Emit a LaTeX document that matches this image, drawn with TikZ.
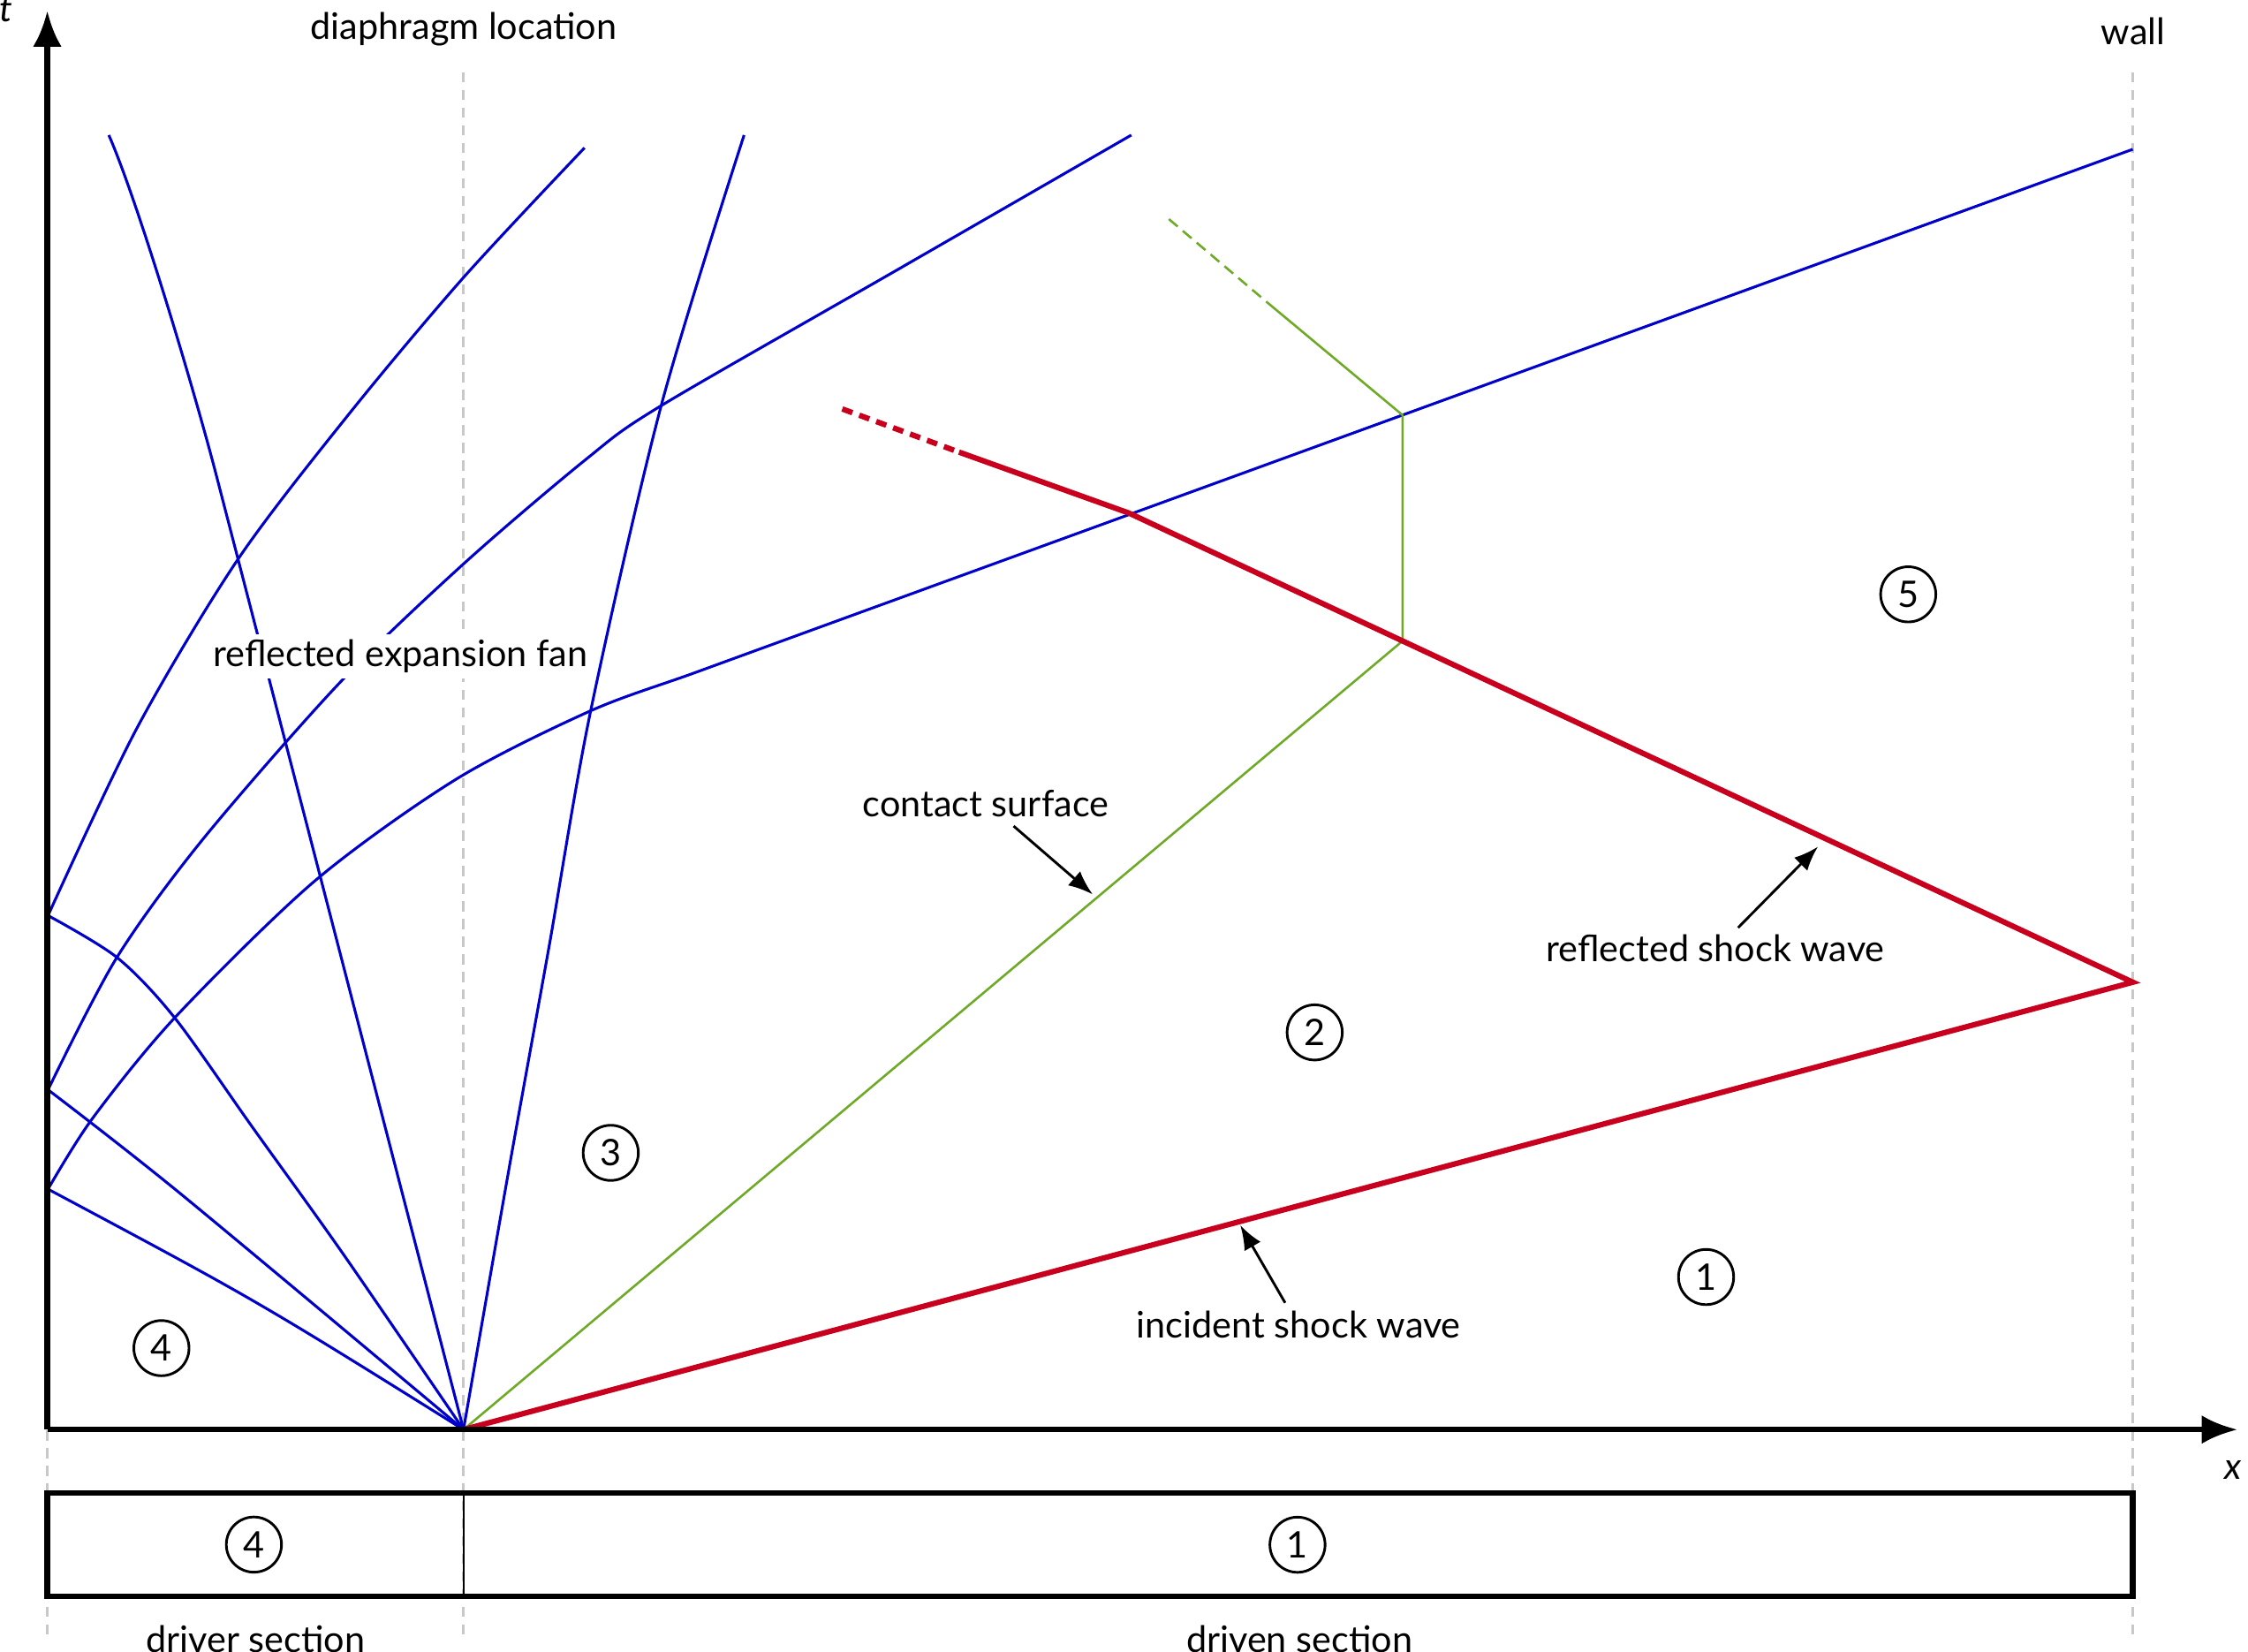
\documentclass[tikz,border=0pt]{standalone}
\usepackage{fontspec}
\setmainfont{Lato}
\usetikzlibrary{arrows.meta}
\definecolor{wblue}{RGB}{0,0,205}
\definecolor{wred}{RGB}{200,0,30}
\definecolor{wgreen}{RGB}{110,170,40}
\definecolor{wgray}{RGB}{200,200,200}
\begin{document}
\begin{tikzpicture}[x=1pt,y=-1pt,
  lbl/.style={font=\fontsize{25.5}{30}\selectfont, inner sep=0pt, anchor=base},
  ilbl/.style={font=\fontsize{25.5}{30}\selectfont\itshape, inner sep=0pt, anchor=base},
  region/.style={draw, circle, line width=1.8pt, minimum size=38.5pt, inner sep=0pt, font=\fontsize{25.5}{30}\selectfont},
  guide/.style={wgray, line width=2pt, dash pattern=on 7pt off 5.3pt},
  wave/.style={wblue, line width=1.9pt},
  shock/.style={wred, line width=3.8pt},
  contact/.style={wgreen, line width=1.6pt},
  axisline/.style={line width=3.8pt, -{Latex[length=25pt,width=20pt]}},
  pointer/.style={line width=1.8pt, -{Latex[length=17pt,width=13pt]}},
]
\useasboundingbox (0,0) rectangle (1568,1152);

% key points
\coordinate (O) at (33,997);
\coordinate (D) at (323.3,997);
\coordinate (W) at (1487.6,685);
\coordinate (tTip) at (33,7.5);
\coordinate (xTip) at (1560.7,997);
\coordinate (K) at (787.4,357.8);
\coordinate (S) at (668.9,315.3);
\coordinate (Rend) at (587.5,285.2);
\coordinate (G1) at (978.3,447);
\coordinate (G2) at (978.3,289.5);
\coordinate (G3) at (884,211);
\coordinate (Gend) at (815.3,152.8);
\coordinate (Etop) at (1487.6,104.1);

% guide lines
\coordinate (gA1) at (33,50.5);   \coordinate (gA2) at (33,1142);
\coordinate (gB1) at (323.3,50.5); \coordinate (gB2) at (323.3,1142);
\coordinate (gC1) at (1487.6,50.5); \coordinate (gC2) at (1487.6,1142);
\draw[guide] (gA1) -- (gA2);
\draw[guide] (gB1) -- (gB2);
\draw[guide] (gC1) -- (gC2);

% expansion fan
\draw[wave] (33.5,829.3) .. controls (178.4,906.6) .. (D);
\draw[wave] plot[smooth] coordinates {(33.5,760) (125.8,832.4) (323.3,997)};
\draw[wave] plot[smooth] coordinates {(33.5,638.5) (81.7,667.8) (122,710) (176,786) (239,874) (323.3,997)};
\draw[wave] (D) -- (150.5,330) .. controls (135.4,271.9) and (96,140) .. (75.9,94.2);
\draw[wave] plot[smooth] coordinates {(323.3,997) (355.3,813.6) (383,660) (412,495.7) (461.5,281.7) (519,94.2)};
% reflected waves
\draw[wave] plot[smooth] coordinates {(33.5,638.5) (95.4,508) (166,390) (244,288) (323.5,193.3) (407.7,103.1)};
\draw[wave] plot[smooth] coordinates {(33.5,760) (81.1,668.4) (141.5,585.3) (236.9,476.2) (323.5,393.1) (408.4,320.6) (460.2,283.5) (624.6,188.9) (789.1,94.2)};
\draw[wave] plot[smooth] coordinates {(33.5,829.3) (64.5,780) (122.6,709) (220,614) (318.2,543.4) (412,495.7) (484.5,469.2) (580,434.4)} -- (Etop);

% contact surface
\draw[contact] (D) -- (G1) -- (G2) -- (G3);
\draw[contact, dash pattern=on 8pt off 4.7pt] (Gend) -- (G3);

% shocks
\draw[shock] (D) -- (W) -- (K) -- (S);
\draw[shock, dash pattern=on 7.5pt off 5.1pt] (Rend) -- (S);

% axes
\draw[axisline] (O) -- (tTip);
\draw[axisline] (O) -- (xTip);

% tube
\coordinate (T1) at (33,1041);
\coordinate (T2) at (1487.6,1113.4);
\coordinate (Dv1) at (323.3,1041);
\coordinate (Dv2) at (323.3,1113.4);
\draw[line width=3.8pt] (T1) rectangle (T2);
\draw[line width=1.4pt] (Dv1) -- (Dv2);

% labels
\node[ilbl] (tlabel) at (4,15) {t};
\node[ilbl] (xlabel) at (1557.6,1031.6) {x};
\node[lbl] (diaphragm) at (323.5,27.5) {diaphragm location};
\node[lbl] (wall) at (1487.8,31.2) {wall};
\node[lbl, fill=white, inner sep=4pt] (fan) at (279.3,464.9) {reflected expansion fan};
\node[lbl] (cs) at (687.5,569.5) {contact surface};
\node[lbl] (rsw) at (1196.5,670.6) {reflected shock wave};
\node[lbl] (isw) at (905.8,933) {incident shock wave};
\node[lbl] (driver) at (178.2,1152.5) {driver section};
\node[lbl] (driven) at (906.4,1152.5) {driven section};

% regions
\node[region] (r5) at (1331,414.5) {5};
\node[region] (r2) at (917,720) {2};
\node[region] (r3) at (426,804) {3};
\node[region] (r1) at (1190,890.6) {1};
\node[region] (r4) at (112.6,940.2) {4};
\node[region] (tube4) at (177.1,1077.2) {4};
\node[region] (tube1) at (905,1077.3) {1};

% pointers
\coordinate (csA) at (707,576.1);  \coordinate (csB) at (762.1,623.7);
\coordinate (rsA) at (1212.3,647); \coordinate (rsB) at (1268,590.5);
\coordinate (isA) at (896.4,908.6); \coordinate (isB) at (865.1,854.5);
\draw[pointer] (csA) -- (csB);
\draw[pointer] (rsA) -- (rsB);
\draw[pointer] (isA) -- (isB);
\end{tikzpicture}
\end{document}
